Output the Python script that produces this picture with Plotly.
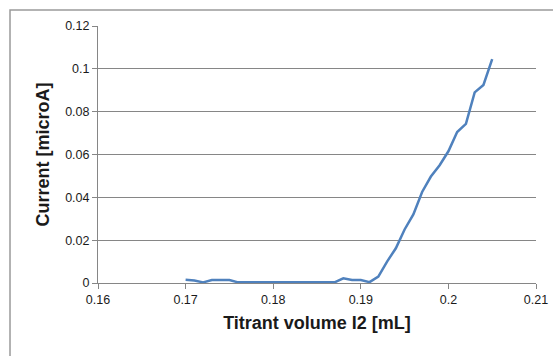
import plotly.graph_objects as go

volume_ml = [0.170, 0.171, 0.172, 0.173, 0.174, 0.175, 0.176, 0.177, 0.178, 0.179,
             0.180, 0.181, 0.182, 0.183, 0.184, 0.185, 0.186, 0.187, 0.188, 0.189,
             0.190, 0.191, 0.192, 0.193, 0.194, 0.195, 0.196, 0.197, 0.198, 0.199,
             0.200, 0.201, 0.202, 0.203, 0.204, 0.205]
current_ua = [0.0015, 0.0012, 0.0003, 0.0014, 0.0014, 0.0014, 0.0003, 0.0003, 0.0003, 0.0003,
              0.0003, 0.0003, 0.0003, 0.0003, 0.0003, 0.0003, 0.0003, 0.0003, 0.0022, 0.0014,
              0.0014, 0.0004, 0.0030, 0.0100, 0.0162, 0.0250, 0.0320, 0.0425, 0.0497, 0.0550,
              0.0615, 0.0705, 0.0743, 0.0890, 0.0925, 0.1045]

x_ticks = [0.16, 0.17, 0.18, 0.19, 0.20, 0.21]
x_tick_text = ["0.16", "0.17", "0.18", "0.19", "0.2", "0.21"]
y_ticks = [0, 0.02, 0.04, 0.06, 0.08, 0.10, 0.12]
y_tick_text = ["0", "0.02", "0.04", "0.06", "0.08", "0.1", "0.12"]

fig = go.Figure()
fig.add_trace(go.Scatter(x=volume_ml, y=current_ua, mode="lines",
                         line=dict(color="#4F81BD", width=2.5), showlegend=False))

font_family = "Liberation Sans, Arial, sans-serif"
fig.update_layout(
    width=553, height=356,
    margin=dict(l=98, r=17, t=26, b=73, autoexpand=False),
    paper_bgcolor="white", plot_bgcolor="white",
    font=dict(family=font_family, color="#1a1a1a"),
    xaxis=dict(range=[0.16, 0.21], tickvals=x_ticks, ticktext=x_tick_text,
               showgrid=False, zeroline=False, showline=True, linecolor="#868686",
               linewidth=1, ticks="outside", ticklen=5, tickcolor="#868686",
               tickfont=dict(size=12.5), fixedrange=True, automargin=False,
               title=dict(text="<b>Titrant volume I2 [mL]</b>", font=dict(size=18), standoff=10)),
    yaxis=dict(range=[0, 0.12], tickvals=y_ticks, ticktext=y_tick_text,
               showgrid=True, gridcolor="#868686", gridwidth=1, zeroline=False,
               showline=True, linecolor="#868686", linewidth=1,
               ticks="outside", ticklen=5, tickcolor="#868686",
               tickfont=dict(size=12.5), fixedrange=True, automargin=False,
               title=dict(text="<b>Current [microA]</b>", font=dict(size=18), standoff=10)),
)

# outer chart frame (partially visible, continues beyond the window)
fig.add_shape(type="rect", xref="paper", yref="paper", layer="above",
              x0=-0.2009, x1=1.2, y0=-0.3, y1=1.0623,
              line=dict(color="#9A9A9A", width=1.5), fillcolor="rgba(0,0,0,0)")

fig.write_html("out.html", config={"displayModeBar": False},
               post_script="document.body.style.margin='0';")
